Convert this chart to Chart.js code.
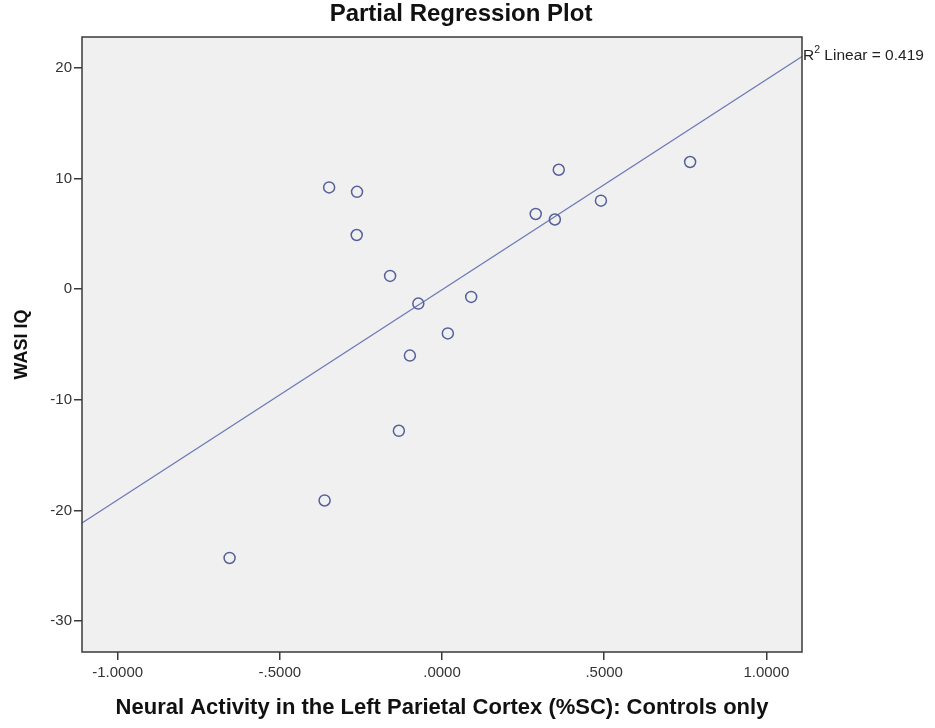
<!DOCTYPE html>
<html>
<head>
<meta charset="utf-8">
<script src="https://cdn.jsdelivr.net/npm/chart.js@4"></script>
<style>
  html, body { margin: 0; padding: 0; background: #fff; }
  #wrap { width: 935px; height: 728px; }
</style>
</head>
<body>
<div id="wrap"><canvas id="prPlot" width="935" height="728"></canvas></div>
<script>
// partial residuals: left parietal %SC vs WASI IQ (controls)
const neuralActivity = [-0.348, -0.262, -0.263, -0.160, -0.073, 0.090, 0.018, -0.099,
    -0.133, -0.362, -0.655, 0.360, 0.289, 0.348, 0.490, 0.765];
const wasiIQ = [9.2, 8.8, 4.9, 1.2, -1.3, -0.7, -4.0, -6.0,
    -12.8, -19.1, -24.3, 10.8, 6.8, 6.3, 8.0, 11.5];

const xTickValues = [-1, -0.5, 0, 0.5, 1];
const yTickValues = [-30, -20, -10, 0, 10, 20];
const xMin = -1.11, xMax = 1.11;
const yMin = -32.8, yMax = 22.8;
const rSquaredText = '0.419';
const plotTitle = 'Partial Regression Plot';

// least squares fit line
const n = neuralActivity.length;
const mx = neuralActivity.reduce((a, b) => a + b, 0) / n;
const my = wasiIQ.reduce((a, b) => a + b, 0) / n;
let sxy = 0, sxx = 0;
for (let i = 0; i < n; i++) {
    sxy += (neuralActivity[i] - mx) * (wasiIQ[i] - my);
    sxx += (neuralActivity[i] - mx) * (neuralActivity[i] - mx);
}
const slope = sxy / sxx;
const intercept = my - slope * mx;
const fitLine = [xMin, xMax].map(x => ({ x: x, y: intercept + slope * x }));

const points = neuralActivity.map((x, i) => ({ x: x, y: wasiIQ[i] }));

function spssFormat(v) {
    let s = Math.abs(v).toFixed(4);
    if (Math.abs(v) < 1) s = s.replace(/^0/, '');
    return (v < 0 ? '-' : '') + s;
}

const FONT = "'Liberation Sans', Arial, sans-serif";

const framePlugin = {
    id: 'frame',
    beforeDraw(chart) {
        const a = chart.chartArea, c = chart.ctx;
        c.save();
        c.fillStyle = '#f0f0f0';
        c.fillRect(a.left, a.top, a.right - a.left, a.bottom - a.top);
        c.restore();
    },
    afterDraw(chart) {
        const a = chart.chartArea, c = chart.ctx;
        c.save();
        c.strokeStyle = '#3a3a3a';
        c.lineWidth = 1.5;
        c.strokeRect(a.left, a.top, a.right - a.left, a.bottom - a.top);

        // title, a little left of the page centre
        c.fillStyle = '#111';
        c.font = 'bold 24px ' + FONT;
        c.textAlign = 'center';
        c.textBaseline = 'alphabetic';
        c.fillText(plotTitle, 461, 21);

        // R squared label next to the end of the fit line
        c.textAlign = 'left';
        const yEnd = chart.scales.y.getPixelForValue(fitLine[1].y);
        let x = a.right + 1;
        const base = yEnd + 4;
        c.fillStyle = '#222';
        c.font = '15.5px ' + FONT;
        c.fillText('R', x, base);
        x += c.measureText('R').width;
        c.font = '10.5px ' + FONT;
        c.fillText('2', x, base - 7);
        x += c.measureText('2').width;
        c.font = '15.5px ' + FONT;
        c.fillText(' Linear = ' + rSquaredText, x, base);
        c.restore();
    }
};

new Chart(document.getElementById('prPlot').getContext('2d'), {
    type: 'scatter',
    data: {
        datasets: [{
            label: 'WASI IQ',
            data: points,
            showLine: false,
            pointRadius: 5.5,
            pointHoverRadius: 5.5,
            pointBorderWidth: 1.5,
            pointBackgroundColor: 'rgba(0,0,0,0)',
            pointBorderColor: '#56609a'
        }, {
            label: 'Fit',
            type: 'line',
            data: fitLine,
            borderColor: '#6d79b5',
            borderWidth: 1.2,
            pointRadius: 0,
            fill: false
        }]
    },
    options: {
        responsive: false,
        animation: false,
        layout: { padding: { left: 0, right: 133, top: 37, bottom: 0 } },
        plugins: {
            legend: { display: false },
            tooltip: { enabled: false },
            title: { display: false }
        },
        scales: {
            x: {
                type: 'linear',
                min: xMin,
                max: xMax,
                afterBuildTicks(scale) { scale.ticks = xTickValues.map(v => ({ value: v })); },
                afterFit(scale) { scale.height = 76; },
                ticks: {
                    color: '#333',
                    font: { family: FONT, size: 15 },
                    padding: 4,
                    maxRotation: 0,
                    callback: v => spssFormat(v)
                },
                grid: { display: true, drawOnChartArea: false, drawTicks: true, tickLength: 8, color: '#3a3a3a', lineWidth: 1.5 },
                border: { display: false },
                title: {
                    display: true,
                    text: 'Neural Activity in the Left Parietal Cortex (%SC): Controls only',
                    color: '#111',
                    font: { family: FONT, size: 22, weight: 'bold', lineHeight: 1.2 },
                    padding: { top: 7, bottom: 7 }
                }
            },
            y: {
                type: 'linear',
                min: yMin,
                max: yMax,
                afterBuildTicks(scale) { scale.ticks = yTickValues.map(v => ({ value: v })); },
                afterFit(scale) { scale.width = 82; },
                ticks: {
                    color: '#333',
                    font: { family: FONT, size: 15 },
                    padding: 2
                },
                grid: { display: true, drawOnChartArea: false, drawTicks: true, tickLength: 8, color: '#3a3a3a', lineWidth: 1.5 },
                border: { display: false },
                title: {
                    display: true,
                    text: 'WASI IQ',
                    color: '#111',
                    font: { family: FONT, size: 18, weight: 'bold', lineHeight: 1.2 },
                    padding: { top: 11, bottom: 0 }
                }
            }
        }
    },
    plugins: [framePlugin]
});
</script>
</body>
</html>
